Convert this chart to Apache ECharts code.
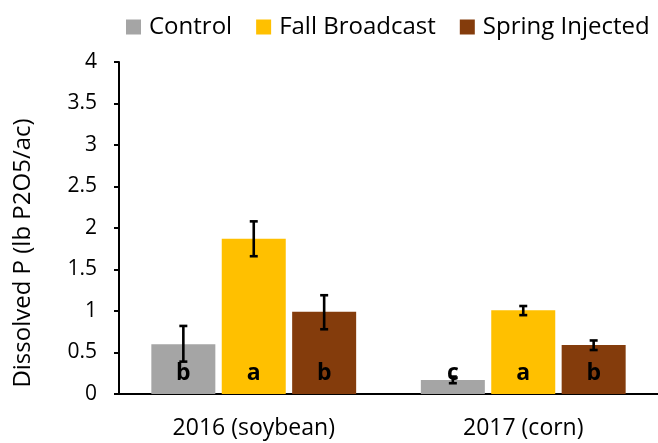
<html>
<head>
<meta charset="utf-8">
<script src="https://cdn.jsdelivr.net/npm/echarts@6/dist/echarts.min.js"></script>
<style>
body{margin:0;background:#fff;}
#main{width:658px;height:443px;}
</style>
</head>
<body>
<div id="main"></div>
<script>
var categories = ['2016 (soybean)', '2017 (corn)'];
var seriesNames = ['Control', 'Fall Broadcast', 'Spring Injected'];
var colors = ['#a5a5a5', '#ffc000', '#843c0c'];

var controlVals = [0.60, 0.17];
var fallVals = [1.87, 1.01];
var springVals = [0.99, 0.59];

var controlLow = [0.39, 0.13];
var controlHigh = [0.82, 0.21];
var fallLow = [1.66, 0.95];
var fallHigh = [2.08, 1.06];
var springLow = [0.78, 0.53];
var springHigh = [1.19, 0.645];

var controlLetters = ['b', 'c'];
var fallLetters = ['a', 'a'];
var springLetters = ['b', 'b'];

var yTicks = [0, 0.5, 1, 1.5, 2, 2.5, 3, 3.5, 4];

var vals = [controlVals, fallVals, springVals];
var lows = [controlLow, fallLow, springLow];
var highs = [controlHigh, fallHigh, springHigh];
var letters = [controlLetters, fallLetters, springLetters];

var font = 'Open Sans';
var catGap = 0.24, barGap = 0.1;

function errorSeries(k) {
  var data = categories.map(function (c, i) { return [i, lows[k][i], highs[k][i]]; });
  return {
    type: 'custom',
    name: seriesNames[k] + ' err',
    z: 10,
    silent: true,
    data: data,
    renderItem: function (params, api) {
      var catW = api.size([1, 0])[0];
      var barW = catW * (1 - catGap) / (3 + 2 * barGap);
      var x = api.coord([api.value(0), 0])[0] + (k - 1) * barW * (1 + barGap);
      var lo = api.coord([api.value(0), api.value(1)])[1];
      var hi = api.coord([api.value(0), api.value(2)])[1];
      var cap = 4;
      var st = { stroke: '#000', lineWidth: 2.6 };
      return {
        type: 'group',
        children: [
          { type: 'line', shape: { x1: x, y1: lo, x2: x, y2: hi }, style: st },
          { type: 'line', shape: { x1: x - cap, y1: lo, x2: x + cap, y2: lo }, style: st },
          { type: 'line', shape: { x1: x - cap, y1: hi, x2: x + cap, y2: hi }, style: st }
        ]
      };
    }
  };
}

var series = [];
vals.forEach(function (v, k) {
  series.push({
    type: 'bar',
    name: seriesNames[k],
    data: v,
    barGap: (barGap * 100) + '%',
    barCategoryGap: (catGap * 100) + '%',
    itemStyle: { color: colors[k] },
    label: {
      show: true,
      position: 'insideBottom',
      distance: 9,
      formatter: function (p) { return letters[k][p.dataIndex]; },
      fontFamily: font,
      fontWeight: 'bold',
      fontSize: 23,
      color: '#000'
    }
  });
});
for (var k = 0; k < 3; k++) series.push(errorSeries(k));

var chart = echarts.init(document.getElementById('main'));
chart.setOption({
  animation: false,
  textStyle: { fontFamily: font },
  legend: {
    data: seriesNames,
    top: 10,
    left: 121,
    itemWidth: 15,
    itemHeight: 15,
    itemGap: 24,
    icon: 'rect',
    textStyle: { fontFamily: font, fontSize: 24, color: '#000', padding: [0, 0, 0, 3] }
  },
  grid: { left: 119, top: 62, bottom: 49, width: 546 },
  xAxis: {
    type: 'category',
    data: categories,
    axisLine: { lineStyle: { color: '#000', width: 2 } },
    axisTick: { show: false },
    axisLabel: { fontFamily: font, fontSize: 23, color: '#000', margin: 23 }
  },
  yAxis: {
    type: 'value',
    min: 0,
    max: 4,
    interval: 0.5,
    name: 'Dissolved P (lb P2O5/ac)',
    nameLocation: 'middle',
    nameGap: 84,
    nameTextStyle: { fontFamily: font, fontSize: 24, color: '#000', padding: [0, 50, 0, 0] },
    axisLine: { show: true, lineStyle: { color: '#000', width: 2 } },
    axisTick: { show: true, length: 5, lineStyle: { color: '#000', width: 2 } },
    splitLine: { show: false },
    axisLabel: {
      fontFamily: font, fontSize: 21, color: '#000', margin: 22,
      formatter: function (v) { return yTicks.indexOf(v) >= 0 ? String(v) : ''; }
    }
  },
  series: series
});
</script>
</body>
</html>
